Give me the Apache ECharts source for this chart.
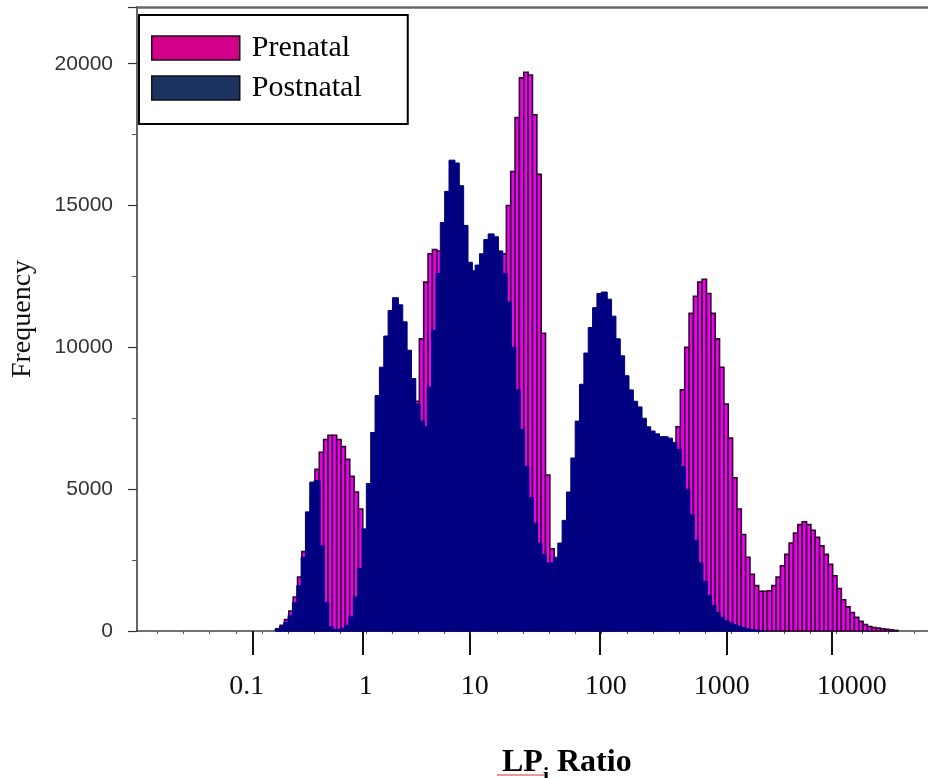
<!DOCTYPE html>
<html>
<head>
<meta charset="utf-8">
<script src="https://cdn.jsdelivr.net/npm/echarts@6/dist/echarts.min.js"></script>
<style>
html,body{margin:0;padding:0;background:#fff;}
#chart{width:928px;height:778px;}
</style>
</head>
<body>
<div id="chart"></div>
<script>
// ---- data ----
// histogram bins on the (log10 LP ratio) axis as drawn in the picture
const binStart = -0.8014;
const binWidth = 0.03757;
const prenatal = [
  80,200,400,700,1200,1900,2800,3800,4800,5700,
  6300,6750,6900,6900,6750,6500,6050,5450,4900,4300,
  3000,2000,1400,1200,1300,2000,3000,4200,5500,6800,
  7800,8600,8100,10300,12300,13300,13450,13400,12800,11800,
  11000,10500,10000,9800,9800,10000,10300,10800,11300,11800,
  12200,12600,13300,15000,16200,18100,19500,19700,19600,18200,
  16100,10500,5500,2900,2200,1900,1700,1600,1600,1700,
  1900,2100,2300,2500,2700,2900,3100,3300,3500,3700,
  3900,4100,4300,4500,4700,4900,5100,5300,5500,5700,
  6000,6300,7200,8500,10000,11200,11800,12300,12400,11900,
  11200,10300,9300,8000,6800,5400,4300,3400,2600,2000,
  1600,1400,1400,1420,1600,1900,2300,2700,3100,3450,
  3750,3850,3750,3550,3300,3000,2700,2350,1950,1500,
  1100,850,650,480,340,230,160,120,100,80,
  60,40,20
];
const postnatal = [
  60,150,300,550,1000,1600,2600,4200,5250,5300,
  3000,1000,150,60,60,100,200,500,1200,2200,
  3600,5200,7000,8300,9300,10400,11300,11750,11500,10900,
  9900,8900,8000,7400,7200,8600,10600,12600,14400,15500,
  16600,16500,15700,14300,13000,12700,12900,13300,13800,14000,
  13900,13400,12600,11600,10000,8500,7100,5800,4700,3800,
  3100,2700,2400,2400,2600,3100,3900,4900,6100,7400,
  8700,9800,10700,11400,11900,11950,11700,11100,10300,9700,
  9000,8500,8100,7900,7500,7200,7050,6950,6850,6850,
  6800,6650,6400,5800,5000,4100,3200,2400,1750,1250,
  900,650,480,360,280,220,170,120,80,50,
  30,15,0,0,0,0,0,0,0,0,
  0,0,0,0,0,0,0,0,0,0,
  0,0,0,0,0,0,0,0,0,0,
  0,0,0
];
const tickLabels = ['0.1','1','10','100','1000','10000'];
const tickPos  = [-1, -0.0501, 0.8739, 1.9965, 3.0933, 4.0];
const labelPos = [-1.0518, -0.0242, 0.9171, 2.0484, 3.0501, 4.1727];
const seriesNames = ['Prenatal','Postnatal'];

// ---- build ----
const xMin = -2, xMax = 4.831;
function toBins(arr){
  return arr.map((v,i)=>[binStart+i*binWidth, binStart+(i+1)*binWidth, v]);
}
const minorPos = [];
for (let k=-3;k<=26;k++) minorPos.push(-1.1468 + 0.22539*k);

function renderer(fill, stroke, lw, overlap){
  return function(params, api){
    const v = api.value(2);
    if (!(v > 0)) return null;
    const p0 = api.coord([api.value(0), v]);
    const p1 = api.coord([api.value(1), 0]);
    return {
      type:'rect',
      shape:{x:p0[0]-overlap, y:p0[1], width:p1[0]-p0[0]+2*overlap, height:p1[1]-p0[1]},
      style:{fill:fill, stroke:stroke, lineWidth:lw}
    };
  };
}

// spell-check squiggle under "LPi" in the axis title
const squiggle = [];
for (let x=497; x<=545; x+=2) squiggle.push([x, (x/2)%2 ? 775 : 777]);

const chart = echarts.init(document.getElementById('chart'), null, {renderer:'canvas'});
chart.setOption({
  animation:false,
  backgroundColor:'#fff',
  grid:{left:137, right:0, top:7, bottom:147, containLabel:false},
  title:{
    text:'{a|LP}{b|i}{a| Ratio}',
    left:497, top:742,
    textStyle:{
      rich:{
        a:{fontFamily:'Liberation Serif', fontSize:32, fontWeight:'bold', color:'#000', lineHeight:40, verticalAlign:'top'},
        b:{fontFamily:'Liberation Serif', fontSize:22, fontWeight:'bold', color:'#000', lineHeight:40, verticalAlign:'bottom'}
      }
    }
  },
  graphic:[{
    type:'polyline', silent:true, z:10,
    shape:{points:squiggle},
    style:{stroke:'#d83030', lineWidth:1, fill:null}
  }],
  legend:{
    orient:'vertical', left:139, top:15,
    data:[
      {name:seriesNames[0], itemStyle:{color:'#d4008c', borderColor:'#111', borderWidth:1.5}},
      {name:seriesNames[1], itemStyle:{color:'#1b3560', borderColor:'#111', borderWidth:1.5}}
    ],
    icon:'rect', itemWidth:88, itemHeight:24, itemGap:10,
    padding:[18,46,21,12],
    borderColor:'#000', borderWidth:2, backgroundColor:'#fff',
    textStyle:{fontFamily:'Liberation Serif', fontSize:30, color:'#000', lineHeight:24, padding:[0,0,0,7]}
  },
  xAxis:[
    {
      type:'value', min:xMin, max:xMax, position:'bottom',
      axisLine:{show:true, onZero:false, lineStyle:{color:'#444', width:1.5}},
      axisTick:{show:true, customValues:tickPos, length:24, lineStyle:{color:'#111', width:2}},
      axisLabel:{show:true, customValues:labelPos, margin:42,
        fontFamily:'Liberation Serif', fontSize:28, color:'#111',
        formatter:function(v){
          for (let i=0;i<labelPos.length;i++) if (Math.abs(labelPos[i]-v)<1e-6) return tickLabels[i];
          return '';
        }},
      splitLine:{show:false}
    },
    {
      type:'value', min:xMin, max:xMax, position:'bottom',
      axisLine:{show:false, onZero:false},
      axisTick:{show:true, customValues:minorPos, length:3, lineStyle:{color:'#555', width:1}},
      axisLabel:{show:false}, splitLine:{show:false}
    },
    {
      type:'value', min:xMin, max:xMax, position:'top',
      axisLine:{show:true, onZero:false, lineStyle:{color:'#6a6a6a', width:2.5}},
      axisTick:{show:false}, axisLabel:{show:false}, splitLine:{show:false}
    }
  ],
  yAxis:{
    type:'value', min:0, max:22000, interval:5000, position:'left',
    name:'Frequency', nameLocation:'middle', nameGap:100, nameRotate:90,
    nameTextStyle:{fontFamily:'Liberation Serif', fontSize:28, color:'#111'},
    axisLine:{show:true, onZero:false, lineStyle:{color:'#333', width:1.5}},
    axisTick:{show:true, length:9, lineStyle:{color:'#333', width:1.2}},
    minorTick:{show:true, splitNumber:2, length:5, lineStyle:{color:'#555', width:1}},
    axisLabel:{margin:24, fontFamily:'Liberation Sans', fontSize:21, color:'#333',
      formatter:function(v){ return v<=20000 ? String(v) : ''; }},
    splitLine:{show:false}
  },
  series:[
    {
      name:seriesNames[0], type:'custom', xAxisIndex:0, yAxisIndex:0,
      itemStyle:{color:'#d4008c'},
      encode:{x:[0,1], y:2},
      renderItem:renderer('#f000f0','#300030',1.6,0),
      data:toBins(prenatal), z:2
    },
    {
      name:seriesNames[1], type:'custom', xAxisIndex:0, yAxisIndex:0,
      itemStyle:{color:'#1b3560'},
      encode:{x:[0,1], y:2},
      renderItem:renderer('#000080','#000080',1,0.8),
      data:toBins(postnatal), z:3
    }
  ]
});
</script>
</body>
</html>
